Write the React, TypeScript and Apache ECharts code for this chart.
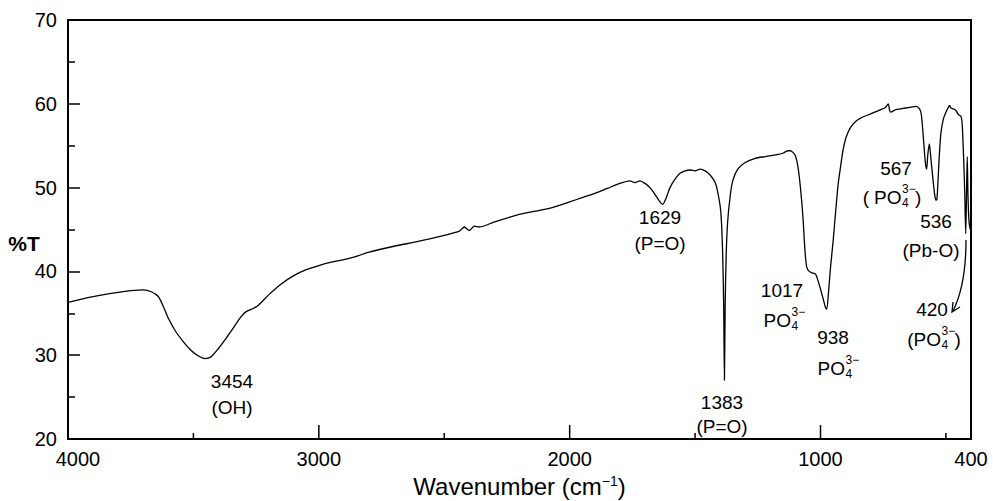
import React, { useEffect, useRef } from "react";
import * as echarts from "echarts";

// ---- Data ----
const wavenumbers = [
  4000, 3900, 3800, 3750, 3700, 3670, 3640, 3620, 3600, 3570, 3540, 3510, 3480, 3454, 3430, 3400,
  3370, 3340, 3310, 3290, 3260, 3240, 3200, 3150, 3100, 3050, 3000, 2950, 2900, 2850, 2800, 2700,
  2600, 2500, 2440, 2420, 2400, 2380, 2360, 2300, 2200, 2100, 2050, 2000, 1950, 1900, 1850, 1800,
  1760, 1740, 1720, 1700, 1680, 1660, 1640, 1629, 1615, 1600, 1580, 1560, 1540, 1520, 1500, 1480,
  1460, 1440, 1420, 1410, 1400, 1395, 1390, 1386, 1383, 1380, 1376, 1370, 1360, 1350, 1330, 1300,
  1260, 1220, 1180, 1150, 1130, 1120, 1110, 1100, 1090, 1080, 1070, 1062, 1055, 1045, 1030, 1020,
  1010, 1000, 990, 980, 975, 968, 960, 950, 940, 930, 920, 910, 900, 890, 880, 860, 840, 800, 760,
  740, 730, 725, 720, 700, 680, 660, 640, 620, 605, 598, 590, 582, 577, 572, 566, 560, 550, 545,
  540, 536, 532, 527, 520, 510, 500, 490, 485, 480, 470, 460, 450, 440, 435, 430, 425, 421, 418,
  415, 412, 408, 403,
];
const transmittance = [
  36.3, 37.0, 37.5, 37.7, 37.8, 37.6, 37.0, 35.8, 34.4, 32.8, 31.6, 30.6, 29.9, 29.6, 29.8, 30.8,
  32.0, 33.3, 34.6, 35.2, 35.6, 36.0, 37.2, 38.5, 39.5, 40.2, 40.7, 41.1, 41.4, 41.8, 42.3, 43.0,
  43.6, 44.3, 44.8, 45.3, 44.9, 45.4, 45.3, 45.9, 46.8, 47.4, 47.8, 48.3, 48.8, 49.3, 49.9, 50.5,
  50.8, 50.6, 50.8, 50.5, 50.0, 49.2, 48.3, 48.0, 48.8, 50.0, 51.0, 51.7, 52.0, 52.1, 52.0, 52.2,
  52.0, 51.5, 50.6, 49.5, 47.8, 46.0, 42.0, 36.0, 27.0, 36.0, 42.0, 46.0, 49.0, 50.8, 52.2, 53.0,
  53.5, 53.7, 53.9, 54.1, 54.4, 54.4, 54.2, 53.8, 52.5, 50.0, 46.5, 42.5, 40.5, 40.0, 39.8, 39.7,
  38.9, 37.9, 36.8, 35.7, 35.5, 37.5, 40.5, 43.5, 47.0, 50.3, 52.5, 54.5, 55.8, 56.6, 57.2, 57.9,
  58.3, 58.8, 59.3, 59.6, 60.0, 59.3, 59.0, 59.3, 59.4, 59.5, 59.6, 59.7, 59.4, 58.7, 56.0, 53.0,
  52.2, 54.0, 55.2, 53.5, 50.5, 49.2, 48.5, 48.6, 50.5, 53.5, 56.5, 58.2, 59.0, 59.6, 59.8, 59.5,
  59.4, 59.2, 58.7, 58.5, 57.5, 54.0, 49.5, 44.5, 49.0, 53.7, 49.0, 46.0, 45.0,
];

const xRange = { min: 400, max: 4000 };
const xLabelValues = [4000, 3000, 2000, 1000, 400];
const xMajorTicks = [3000, 2000, 1000];
const xMinorTicks = [3500, 2500, 1500, 500];
const yTicks = { min: 20, max: 70, interval: 10 };

const peakNumbers = ["3454", "1629", "1383", "1017", "938", "567", "536", "420"];
const peakAssignments = ["(OH)", "(P=O)", "(P=O)", "PO4", "PO4", "(PO4)", "(Pb-O)", "(PO4)"];

const FONT = "'Liberation Sans', Arial, sans-serif";
const W = 993;
const H = 501;
const GRID = { left: 68, right: 22, top: 20, bottom: 62 };
const MAJOR_LEN = 14;
const MINOR_LEN = 6;

function txt(text: string, x: number, y: number, size = 19, align = "center", weight = "normal") {
  return {
    type: "text",
    x,
    y,
    silent: true,
    z: 10,
    style: {
      text,
      fontSize: size,
      fontFamily: FONT,
      fontWeight: weight,
      fill: "#000",
      align,
      verticalAlign: "middle",
      textAlign: align,
      textVerticalAlign: "middle",
    },
  };
}

// PO4 3- with stacked sub/superscripts, centered at cx
function po4(cx: number, cy: number, paren: boolean, spaceAfterParen = false) {
  const parts: any[] = [];
  const pw = 6.3;
  const poW = 27;
  const scriptW = 14;
  const lead = paren ? pw + (spaceAfterParen ? 5 : 0) : 0;
  const total = lead + poW + scriptW + (paren ? pw : 0);
  const left = cx - total / 2;
  if (paren) parts.push(txt("(", left, cy, 19, "left"));
  parts.push(txt("PO", left + lead, cy, 19, "left"));
  parts.push(txt("3\u2212", left + lead + poW + 1, cy - 8, 12, "left"));
  parts.push(txt("4", left + lead + poW + 1, cy + 6, 12, "left"));
  if (paren) parts.push(txt(")", left + lead + poW + scriptW, cy, 19, "left"));
  return { type: "group", children: parts };
}

export default function App() {
  const ref = useRef<HTMLDivElement>(null);
  useEffect(() => {
    if (!ref.current) return;
    const chart = echarts.init(ref.current, null, { renderer: "svg" });
    const data = wavenumbers.map((w, i) => [w, transmittance[i]]);
    const axisLine = { show: true, lineStyle: { color: "#000", width: 2 } };

    chart.setOption({
      animation: false,
      backgroundColor: "#fff",
      grid: { ...GRID, containLabel: false, outerBoundsMode: "none" },
      xAxis: [
        {
          type: "value",
          min: xRange.min,
          max: xRange.max,
          inverse: true,
          position: "bottom",
          axisLine,
          splitLine: { show: false },
          axisTick: { show: false },
          axisLabel: {
            show: true,
            customValues: xLabelValues,
            margin: 10,
            fontSize: 20,
            fontFamily: FONT,
            color: "#000",
            formatter: (v: number) => (v === 4000 ? "{s|4000}" : String(v)),
            rich: { s: { fontSize: 20, fontFamily: FONT, color: "#000", padding: [0, 0, 0, 20] } },
          },
          name: "{a|Wavenumber (cm}{b|\u22121}{a|)}",
          nameLocation: "middle",
          nameGap: 33,
          nameTextStyle: {
            rich: {
              a: { fontSize: 24, fontFamily: FONT, color: "#000" },
              b: { fontSize: 14, fontFamily: FONT, color: "#000", padding: [0, 0, 12, 0] },
            },
          },
        },
        {
          type: "value",
          min: xRange.min,
          max: xRange.max,
          inverse: true,
          position: "top",
          axisLine,
          splitLine: { show: false },
          axisLabel: { show: false },
          axisTick: { show: false },
        },
      ],
      yAxis: [
        {
          type: "value",
          min: yTicks.min,
          max: yTicks.max,
          interval: yTicks.interval,
          position: "left",
          axisLine,
          splitLine: { show: false },
          axisTick: { show: true, inside: true, length: 12, lineStyle: { color: "#000", width: 1.5 } },
          minorTick: { show: true, splitNumber: 2, length: 7, lineStyle: { color: "#000", width: 1.5 } },
          axisLabel: { margin: 11, fontSize: 20, fontFamily: FONT, color: "#000" },
        },
        {
          type: "value",
          min: yTicks.min,
          max: yTicks.max,
          position: "right",
          axisLine,
          splitLine: { show: false },
          axisTick: { show: false },
          axisLabel: { show: false },
        },
      ],
      series: [
        {
          type: "line",
          data,
          xAxisIndex: 0,
          yAxisIndex: 0,
          showSymbol: false,
          symbol: "none",
          smooth: 0.25,
          lineStyle: { color: "#000", width: 1.3 },
        },
      ],
    });

    // x-axis ticks placed through the axis scale (fallback: same linear mapping)
    const plotW = W - GRID.left - GRID.right;
    const baseY = H - GRID.bottom;
    const tickEls: any[] = [];
    const addTick = (v: number, len: number) => {
      let px: any = chart.convertToPixel({ xAxisIndex: 0 }, v);
      if (Array.isArray(px)) px = px[0];
      if (typeof px !== "number" || !isFinite(px)) {
        px = GRID.left + ((xRange.max - v) / (xRange.max - xRange.min)) * plotW;
      }
      tickEls.push({
        type: "rect",
        silent: true,
        z: 20,
        shape: { x: px - 0.75, y: baseY - len, width: 1.5, height: len },
        style: { fill: "#000" },
      });
    };
    xMajorTicks.forEach((v) => addTick(v, MAJOR_LEN));
    xMinorTicks.forEach((v) => addTick(v, MINOR_LEN));

    const graphic: any[] = [
      ...tickEls,
      txt("%T", 24, 243, 21, "center", "bold"),
      txt(peakNumbers[0], 232, 381),
      txt(peakAssignments[0], 232, 407),
      txt(peakNumbers[1], 660, 217),
      txt(peakAssignments[1], 660, 243),
      txt(peakNumbers[2], 722, 402),
      txt(peakAssignments[2], 722, 426),
      txt(peakNumbers[3], 782, 290),
      po4(784, 320, false),
      txt(peakNumbers[4], 833, 337),
      po4(838, 368, false),
      txt(peakNumbers[5], 896, 168),
      po4(892, 197, true, true),
      txt(peakNumbers[6], 936, 221),
      txt(peakAssignments[6], 931, 250),
      txt(peakNumbers[7], 932, 309),
      po4(934, 339, true),
      {
        type: "bezierCurve",
        silent: true,
        shape: { x1: 966, y1: 240, x2: 953, y2: 311, cpx1: 966, cpy1: 285 },
        style: { stroke: "#000", lineWidth: 1.3, fill: "none" },
      },
      {
        type: "polyline",
        silent: true,
        shape: { points: [[953, 302], [952, 312], [960, 307]] },
        style: { stroke: "#000", lineWidth: 1.3, fill: "none" },
      },
    ];
    chart.setOption({ graphic });
    return () => chart.dispose();
  }, []);
  return (
    <div
      ref={ref}
      style={{ position: "fixed", left: 0, top: 0, width: W, height: H, background: "#fff" }}
    />
  );
}
